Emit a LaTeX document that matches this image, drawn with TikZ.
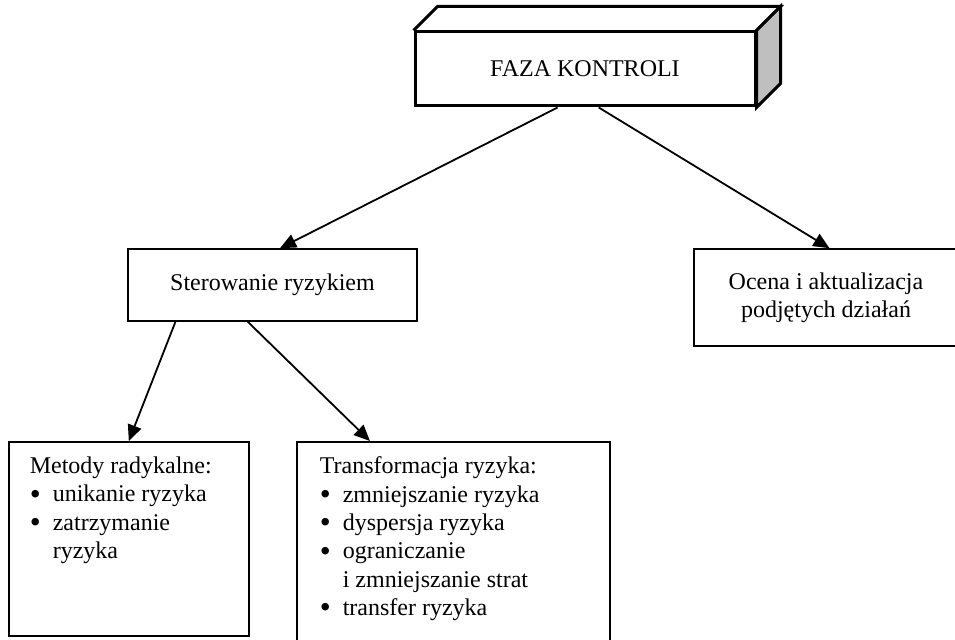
\documentclass[tikz,border=0pt]{standalone}
\usepackage{fontspec}
\setmainfont{Liberation Serif}
\usetikzlibrary{arrows.meta,calc}

\newcommand{\pkt}[1]{\makebox[11.5pt][l]{\smash{\raisebox{-0.2ex}{\scalebox{1.3}{\textbullet}}}}#1}

\begin{document}
\begin{tikzpicture}[x=0.5pt,y=-0.5pt,font=\fontsize{12}{14.2}\selectfont,
    box/.style={draw,line width=0.8pt,inner sep=0pt,align=center},
    lista/.style={draw,line width=0.8pt,anchor=north west,inner xsep=10.5pt,inner ysep=7.5pt},
    strz/.style={line width=0.9pt,-{Triangle[length=8pt,width=7pt]}}]
    \useasboundingbox (0,0) rectangle (955,640);

    \node at (585,69) [box,line width=1.5pt,minimum width=170pt,minimum height=37pt] (kontrola) {FAZA KONTROLI};
    \draw[line width=1.5pt,line join=miter] (kontrola.north west) -- ++(12pt,12pt) -- ([shift={(12pt,12pt)}]kontrola.north east) -- (kontrola.north east);
    \filldraw[line width=1.5pt,line join=miter,fill=gray!50] (kontrola.north east) -- ++(12pt,12pt) -- ([shift={(12pt,12pt)}]kontrola.south east) -- (kontrola.south east) -- cycle;

    \node at (272.5,285) [box,minimum width=144.5pt,minimum height=36pt] (sterowanie) {Sterowanie ryzykiem};
    \node at (826,297.5) [box,minimum width=132pt,minimum height=48.5pt] (ocena) {Ocena i aktualizacja\\podjętych działań};

    \node at (8,441) [lista] (radykalne) {\begin{minipage}[t][82pt][t]{99pt}
        Metody radykalne:\\
        \pkt{unikanie ryzyka}\\
        \pkt{zatrzymanie}\\
        \hspace*{11.5pt}ryzyka
    \end{minipage}};
    \node at (296,441) [lista,inner xsep=11.5pt] (transformacja) {\begin{minipage}[t][87.5pt][t]{133.5pt}
        Transformacja ryzyka:\\
        \pkt{zmniejszanie ryzyka}\\
        \pkt{dyspersja ryzyka}\\
        \pkt{ograniczanie}\\
        \hspace*{11.5pt}i zmniejszanie strat\\
        \pkt{transfer ryzyka}
    \end{minipage}};

    \draw[strz] ($(kontrola.south west)!0.42!(kontrola.south east)$) -- ($(sterowanie.north west)!0.526!(sterowanie.north east)$);
    \draw[strz] ($(kontrola.south west)!0.54!(kontrola.south east)$) -- ($(ocena.north west)!0.513!(ocena.north east)$);
    \draw[strz] ($(sterowanie.south west)!0.166!(sterowanie.south east)$) -- (radykalne.north);
    \draw[strz] ($(sterowanie.south west)!0.415!(sterowanie.south east)$) -- ($(transformacja.north west)!0.235!(transformacja.north east)$);
\end{tikzpicture}
\end{document}
